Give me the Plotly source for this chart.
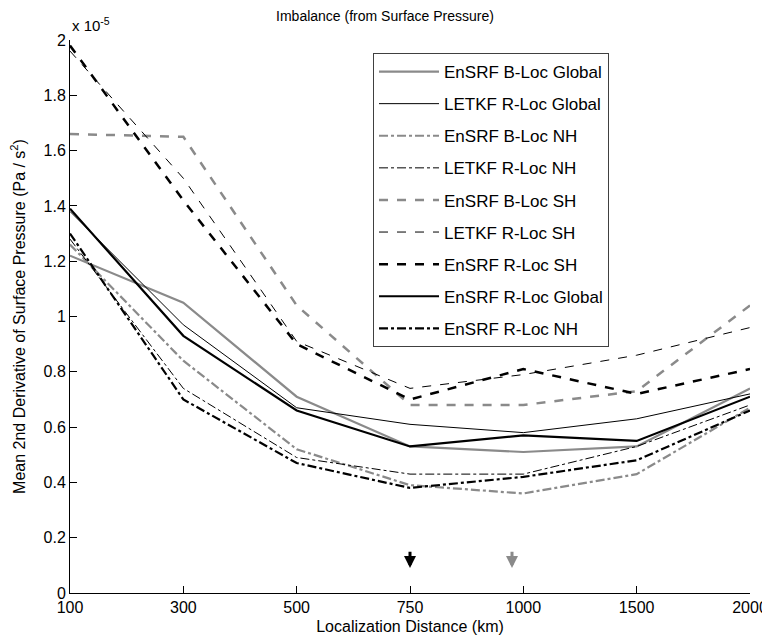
import plotly.graph_objects as go

distances = ["100", "300", "500", "750", "1000", "1500", "2000"]

ensrf_bloc_global = [1.22, 1.05, 0.71, 0.53, 0.51, 0.53, 0.74]
letkf_rloc_global = [1.38, 0.97, 0.67, 0.61, 0.58, 0.63, 0.72]
ensrf_bloc_nh = [1.26, 0.84, 0.52, 0.39, 0.36, 0.43, 0.67]
letkf_rloc_nh = [1.28, 0.74, 0.49, 0.43, 0.43, 0.53, 0.68]
ensrf_bloc_sh = [1.66, 1.65, 1.04, 0.68, 0.68, 0.73, 1.04]
letkf_rloc_sh = [1.96, 1.50, 0.91, 0.74, 0.79, 0.86, 0.96]
ensrf_rloc_sh = [1.98, 1.42, 0.90, 0.70, 0.81, 0.72, 0.81]
ensrf_rloc_global = [1.39, 0.93, 0.66, 0.53, 0.57, 0.55, 0.71]
ensrf_rloc_nh = [1.30, 0.70, 0.47, 0.38, 0.42, 0.48, 0.66]

GRAY = "#8a8a8a"
BLACK = "#000000"

series = [
    ("EnSRF B-Loc Global", ensrf_bloc_global, GRAY, 2.2, "solid"),
    ("LETKF R-Loc Global", letkf_rloc_global, BLACK, 1, "solid"),
    ("EnSRF B-Loc NH", ensrf_bloc_nh, GRAY, 2.2, "dashdot"),
    ("LETKF R-Loc NH", letkf_rloc_nh, BLACK, 1, "dashdot"),
    ("EnSRF B-Loc SH", ensrf_bloc_sh, GRAY, 2.5, "dash"),
    ("LETKF R-Loc SH", letkf_rloc_sh, BLACK, 1, "dash"),
    ("EnSRF R-Loc SH", ensrf_rloc_sh, BLACK, 2.5, "dash"),
    ("EnSRF R-Loc Global", ensrf_rloc_global, BLACK, 2.2, "solid"),
    ("EnSRF R-Loc NH", ensrf_rloc_nh, BLACK, 2.2, "dashdot"),
]

xpos = list(range(len(distances)))

fig = go.Figure()
for i, (name, vals, color, width, dash) in enumerate(series):
    fig.add_trace(go.Scatter(
        x=xpos, y=vals, mode="lines", name=name,
        line=dict(color=color, width=width, dash=dash),
        legendgroup=f"g{i}",
    ))

FONT = "Liberation Sans, Arial, sans-serif"
W, H = 762, 636

fig.update_layout(
    width=W, height=H,
    paper_bgcolor="white", plot_bgcolor="white",
    margin=dict(l=62, r=20, t=32, b=51),
    font=dict(family=FONT, size=16, color="black"),
    title=dict(text="Imbalance (from Surface Pressure)", x=377 / W, xanchor="center",
               y=1 - 8 / H, yanchor="middle", font=dict(size=14)),
    showlegend=True,
    legend=dict(x=0.4456, y=0.9765, xanchor="left", yanchor="top",
                bordercolor="#404040", borderwidth=1, bgcolor="white",
                font=dict(size=17), tracegroupgap=7, traceorder="grouped",
                itemwidth=60, entrywidth=240, entrywidthmode="pixels"),
    xaxis=dict(
        range=[0, 6], tickmode="array", tickvals=xpos, ticktext=distances,
        showgrid=False, zeroline=False, showline=True, linecolor="black", linewidth=1,
        ticks="inside", ticklen=7, tickcolor="black", automargin=False,
        tickfont=dict(size=16),
        title=dict(text="Localization Distance (km)", standoff=5, font=dict(size=16)),
    ),
    yaxis=dict(
        range=[0, 2], tickmode="array",
        tickvals=[0, 0.2, 0.4, 0.6, 0.8, 1, 1.2, 1.4, 1.6, 1.8, 2],
        ticktext=["0", "0.2", "0.4", "0.6", "0.8", "1", "1.2", "1.4", "1.6", "1.8", "2"],
        showgrid=False, zeroline=False, showline=True, linecolor="black", linewidth=1,
        ticks="inside", ticklen=7, tickcolor="black", automargin=False,
        tickfont=dict(size=16),
        title=dict(text="Mean 2nd Derivative of Surface Pressure (Pa / s<sup>2</sup>)",
                   standoff=14, font=dict(size=16)),
    ),
)

fig.add_annotation(text="x 10<sup>-5</sup>", xref="paper", yref="paper", x=0, y=1,
                   xanchor="left", yanchor="bottom", yshift=4, showarrow=False,
                   font=dict(size=15))

arrow_x = [3, 3.9]
arrow_colors = [BLACK, GRAY]
for ax_, col in zip(arrow_x, arrow_colors):
    fig.add_annotation(x=ax_, y=0.09, ax=ax_, ay=0.155, xref="x", yref="y",
                       axref="x", ayref="y", showarrow=True, arrowhead=2,
                       arrowsize=0.8, arrowwidth=3, arrowcolor=col, text="")

fig.write_html("out.html")
